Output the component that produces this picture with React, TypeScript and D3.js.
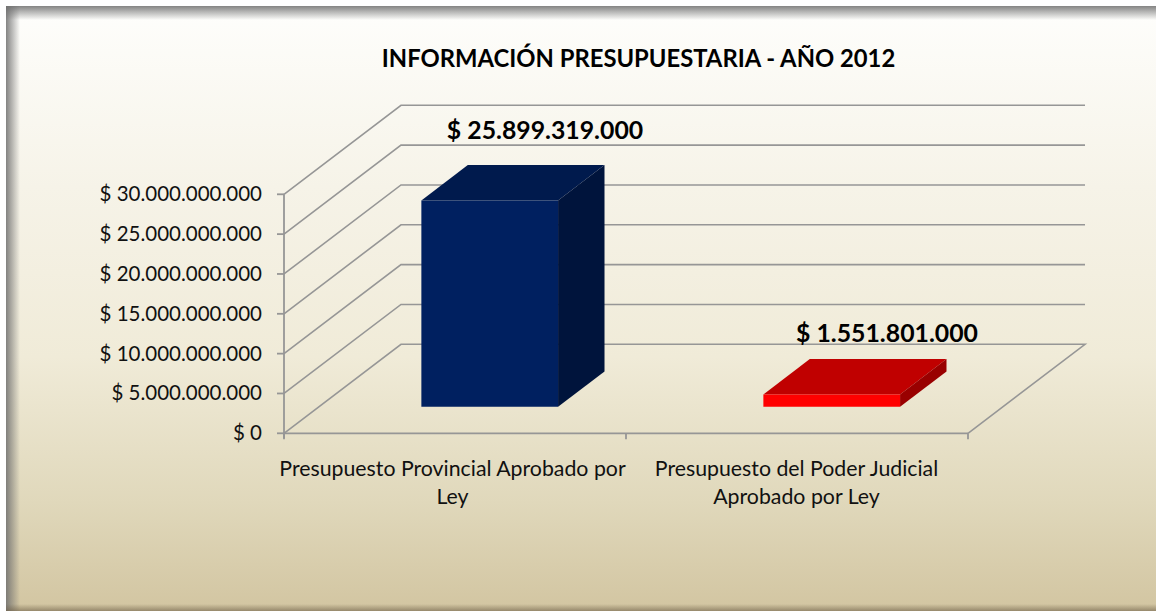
import React from "react";
import * as d3 from "d3";

const categories = ["Presupuesto Provincial Aprobado por Ley", "Presupuesto del Poder Judicial Aprobado por Ley"];
const categoryLines = [["Presupuesto Provincial Aprobado por", "Ley"], ["Presupuesto del Poder Judicial", "Aprobado por Ley"]];
const values = [25899319000, 1551801000];
const valueLabels = ["$ 25.899.319.000", "$ 1.551.801.000"];
const tickValues = [0, 5e9, 10e9, 15e9, 20e9, 25e9, 30e9];
const tickLabels = ["$ 0", "$ 5.000.000.000", "$ 10.000.000.000", "$ 15.000.000.000", "$ 20.000.000.000", "$ 25.000.000.000", "$ 30.000.000.000"];
const title = "INFORMACIÓN PRESUPUESTARIA - AÑO 2012";
const frontColors = ["#002060", "#ff0000"];
const topColors = ["#001a4d", "#c00000"];
const sideColors = ["#00143c", "#990000"];
const bgStops: [string, string][] = [["0%", "#fefefc"], ["30%", "#f6f3e8"], ["58%", "#f0ebd8"], ["82%", "#e0d8bb"], ["100%", "#d2c5a1"]];

const W = 1156, H = 611;
const font = "Lato, 'Open Sans', sans-serif";
const grid = "#969696";

const y = d3.scaleLinear().domain([0, 30e9]).range([433.3, 194.3]);
const x = d3.scaleBand<string>().domain(categories).range([284, 968]).paddingInner(0).paddingOuter(0);
const depthX = d3.scaleLinear().domain([0, 1]).range([0, 117]);
const depthY = d3.scaleLinear().domain([0, 1]).range([0, -89]);
const barD0 = 0.298, barD1 = 0.695;
const barPad = 102.5 / 342, barW = 136.7 / 342;

const P = (px: number, v: number, d: number): [number, number] => [px + depthX(d), y(v) + depthY(d)];
const line = d3.line();

export default function App() {
  const x0 = x.range()[0], x1 = x.range()[1];
  const cats = categories.map((c, i) => {
    const bw = x.bandwidth();
    const l = x(c)! + bw * barPad, r = l + bw * barW, v = values[i];
    return {
      c, i,
      front: line([P(l, 0, barD0), P(r, 0, barD0), P(r, v, barD0), P(l, v, barD0)])! + "Z",
      top: line([P(l, v, barD0), P(r, v, barD0), P(r, v, barD1), P(l, v, barD1)])! + "Z",
      side: line([P(r, 0, barD0), P(r, 0, barD1), P(r, v, barD1), P(r, v, barD0)])! + "Z",
    };
  });
  const labelPos: [number, number][] = [[545, 139], [887, 342]];
  return (
    <svg width={W} height={H} style={{ position: "fixed", left: 0, top: 0, display: "block" }} fontFamily={font}>
      <defs>
        <linearGradient id="bg" x1="0" y1="0" x2="0" y2="1">
          {bgStops.map(([o, c]) => <stop key={o} offset={o} stopColor={c} />)}
        </linearGradient>
        <linearGradient id="st" x1="0" y1="0" x2="0" y2="1">
          <stop offset="0" stopColor="#6e6e6e" stopOpacity="0.85" />
          <stop offset="1" stopColor="#6e6e6e" stopOpacity="0" />
        </linearGradient>
        <linearGradient id="sl" x1="0" y1="0" x2="1" y2="0">
          <stop offset="0" stopColor="#6e6e6e" stopOpacity="0.85" />
          <stop offset="1" stopColor="#6e6e6e" stopOpacity="0" />
        </linearGradient>
        <linearGradient id="sb" x1="0" y1="1" x2="0" y2="0">
          <stop offset="0" stopColor="#6e6048" stopOpacity="0.6" />
          <stop offset="1" stopColor="#6e6048" stopOpacity="0" />
        </linearGradient>
      </defs>
      <rect x={0} y={0} width={W} height={H} fill="#ffffff" />
      <rect x={6} y={6} width={W - 6} height={H - 6} fill="url(#bg)" />
      <rect x={6} y={6} width={W - 6} height={14} fill="url(#st)" />
      <rect x={6} y={6} width={14} height={H - 6} fill="url(#sl)" />
      <rect x={6} y={H - 7} width={W - 6} height={7} fill="url(#sb)" />

      <text x={638.5} y={67} textAnchor="middle" fontSize={23.8} fontWeight={700} fill="#000">{title}</text>

      {/* walls: grid lines */}
      <g fill="none" stroke={grid} strokeWidth={1.6}>
        {tickValues.map((t) => (
          <path key={t} d={line(t === 0
            ? [P(x0, 0, 0), P(x0, 0, 1), P(x1, 0, 1), P(x1, 0, 0)]
            : [P(x0, t, 0), P(x0, t, 1), P(x1, t, 1)])!} />
        ))}
        <path d={line([[x0, y(30e9)], [x0, y(0) + 5]])!} strokeWidth={1.8} />
        <path d={line([[x0, y(0)], [x1, y(0)]])!} strokeWidth={1.8} />
        {[...categories.map((c) => x(c)!), x1].map((px) => (
          <path key={px} d={line([[px, y(0)], [px, y(0) + 6]])!} strokeWidth={1.8} />
        ))}
        {tickValues.map((t) => (
          <path key={t} d={line([[x0 - 7, y(t)], [x0, y(t)]])!} strokeWidth={1.8} />
        ))}
      </g>

      {tickValues.map((t, i) => (
        <text key={t} x={262} y={y(t) + 7} textAnchor="end" fontSize={20.5} fill="#111">{tickLabels[i]}</text>
      ))}

      {cats.map((b) => (
        <g key={b.c}>
          <path d={b.top} fill={topColors[b.i]} />
          <path d={b.side} fill={sideColors[b.i]} />
          <path d={b.front} fill={frontColors[b.i]} />
        </g>
      ))}

      {valueLabels.map((l, i) => (
        <text key={l} x={labelPos[i][0]} y={labelPos[i][1]} textAnchor="middle" fontSize={24.8} fontWeight={700} fill="#000">{l}</text>
      ))}

      {categories.map((c, i) => categoryLines[i].map((ln, j) => (
        <text key={ln} x={(i === 0 ? 452.5 : 796.5)} y={476 + j * 28} textAnchor="middle" fontSize={21.3} fill="#111">{ln}</text>
      )))}
    </svg>
  );
}
